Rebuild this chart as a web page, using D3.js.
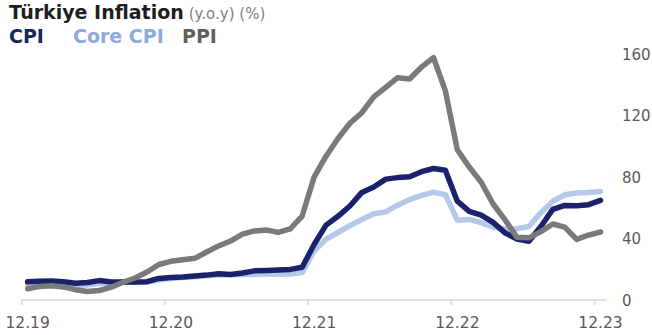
<!DOCTYPE html>
<html>
<head>
<meta charset="utf-8">
<script src="https://cdn.jsdelivr.net/npm/d3@7"></script>
<style>
  html, body { margin: 0; padding: 0; background: #fff; }
  svg { display: block; font-family: "DejaVu Sans", Verdana, sans-serif; }
</style>
</head>
<body>
<svg id="chart" width="652" height="335"></svg>
<script>
// Monthly year-over-year inflation, Dec 2019 – Dec 2023 (%)
const months = [
  "12.19",
  "01.20","02.20","03.20","04.20","05.20","06.20","07.20","08.20","09.20","10.20","11.20","12.20",
  "01.21","02.21","03.21","04.21","05.21","06.21","07.21","08.21","09.21","10.21","11.21","12.21",
  "01.22","02.22","03.22","04.22","05.22","06.22","07.22","08.22","09.22","10.22","11.22","12.22",
  "01.23","02.23","03.23","04.23","05.23","06.23","07.23","08.23","09.23","10.23","11.23","12.23"
];

const cpi = [
  11.84,
  12.15, 12.37, 11.86, 10.94, 11.39, 12.62, 11.76, 11.77, 11.75, 11.89, 14.03, 14.60,
  14.97, 15.61, 16.19, 17.14, 16.59, 17.53, 18.95, 19.25, 19.58, 19.89, 21.31, 36.08,
  48.69, 54.44, 61.14, 69.97, 73.50, 78.62, 79.60, 80.21, 83.45, 85.51, 84.39, 64.27,
  57.68, 55.18, 50.51, 43.68, 39.59, 38.21, 47.83, 58.94, 61.53, 61.36, 61.98, 64.77
];

const coreCpi = [
  10.2,
  10.0, 9.9, 10.1, 9.6, 9.8, 10.8, 11.2, 11.6, 11.5, 11.6, 13.0, 14.0,
  14.6, 15.1, 15.7, 16.2, 16.5, 16.8, 16.6, 17.0, 16.9, 16.9, 17.8, 31.9,
  39.6, 43.9, 48.4, 52.4, 56.1, 57.3, 61.7, 65.3, 68.1, 70.1, 68.5, 51.9,
  52.4, 50.3, 47.4, 46.2, 46.4, 47.8, 56.8, 64.2, 68.4, 69.6, 69.9, 70.6
];

const ppi = [
  7.36,
  8.84, 9.26, 8.50, 6.71, 5.53, 6.17, 8.33, 11.53, 14.33, 18.20, 23.11, 25.15,
  26.16, 27.09, 31.20, 35.17, 38.33, 42.89, 44.92, 45.52, 43.96, 46.31, 54.62, 79.89,
  93.53, 105.01, 114.97, 121.82, 132.16, 138.31, 144.61, 143.75, 151.50, 157.69, 136.02, 97.72,
  86.46, 76.61, 62.44, 52.11, 40.76, 40.42, 44.50, 49.41, 47.44, 39.39, 42.25, 44.22
];

const yTicks = [0, 40, 80, 120, 160];
const xTickLabels = ["12.19", "12.20", "12.21", "12.22", "12.23"];

const seriesNames = ["CPI", "Core CPI", "PPI"];
const seriesColors = { "CPI": "#1b226b", "Core CPI": "#b4c8ea", "PPI": "#7a7a7c" };
const legendColors = { "CPI": "#14275e", "Core CPI": "#8eaadc", "PPI": "#5f5f5f" };

const svg = d3.select("#chart");

const x = d3.scaleBand().domain(months).range([21.7, 606.5]).padding(0);
const xc = m => x(m) + x.bandwidth() / 2;
const y = d3.scaleLinear().domain([0, 160]).range([300, 54]);

// title
const title = svg.append("text").attr("x", 9).attr("y", 19);
title.append("tspan")
  .attr("font-weight", "bold").attr("font-size", 19).attr("fill", "#1e1e1e")
  .text("Türkiye Inflation");
title.append("tspan")
  .attr("font-size", 15).attr("fill", "#7f7f7f").attr("dx", 5)
  .text("(y.o.y) (%)");

// legend
const legendX = { "CPI": 9, "Core CPI": 73, "PPI": 182 };
svg.append("g").selectAll("text").data(seriesNames).join("text")
  .attr("x", d => legendX[d]).attr("y", 43)
  .attr("font-weight", "bold").attr("font-size", 19)
  .attr("fill", d => legendColors[d])
  .text(d => d);

// x axis: line, year ticks at category boundaries, labels centred on the December category
const axisG = svg.append("g");
axisG.append("line")
  .attr("x1", x.range()[0]).attr("x2", x.range()[1])
  .attr("y1", y(0)).attr("y2", y(0))
  .attr("stroke", "#d9d9d9").attr("stroke-width", 1.5);
axisG.selectAll("line.tick").data(xTickLabels).join("line")
  .attr("class", "tick")
  .attr("x1", d => x(d)).attr("x2", d => x(d))
  .attr("y1", y(0)).attr("y2", y(0) + 5)
  .attr("stroke", "#d9d9d9").attr("stroke-width", 1.5);
axisG.selectAll("text").data(xTickLabels).join("text")
  .attr("x", d => xc(d)).attr("y", 328)
  .attr("text-anchor", "middle").attr("font-size", 15.5).attr("fill", "#595959")
  .text(d => d);

// y axis on the right
const yAxis = d3.axisRight(y).tickValues(yTicks).tickSize(0).tickPadding(0);
const yG = svg.append("g").attr("transform", "translate(622,0)").call(yAxis);
yG.select(".domain").remove();
yG.selectAll("text").attr("font-size", 15).attr("fill", "#595959")
  .attr("font-family", "DejaVu Sans, Verdana, sans-serif").attr("dy", "0.35em");

// lines
const line = d3.line().x((d, i) => xc(months[i])).y(d => y(d));
const drawOrder = [["Core CPI", coreCpi], ["CPI", cpi], ["PPI", ppi]];
svg.append("g").selectAll("path").data(drawOrder).join("path")
  .attr("d", d => line(d[1]))
  .attr("fill", "none")
  .attr("stroke", d => seriesColors[d[0]])
  .attr("stroke-width", 5.5)
  .attr("stroke-linejoin", "round")
  .attr("stroke-linecap", "round");
</script>
</body>
</html>
